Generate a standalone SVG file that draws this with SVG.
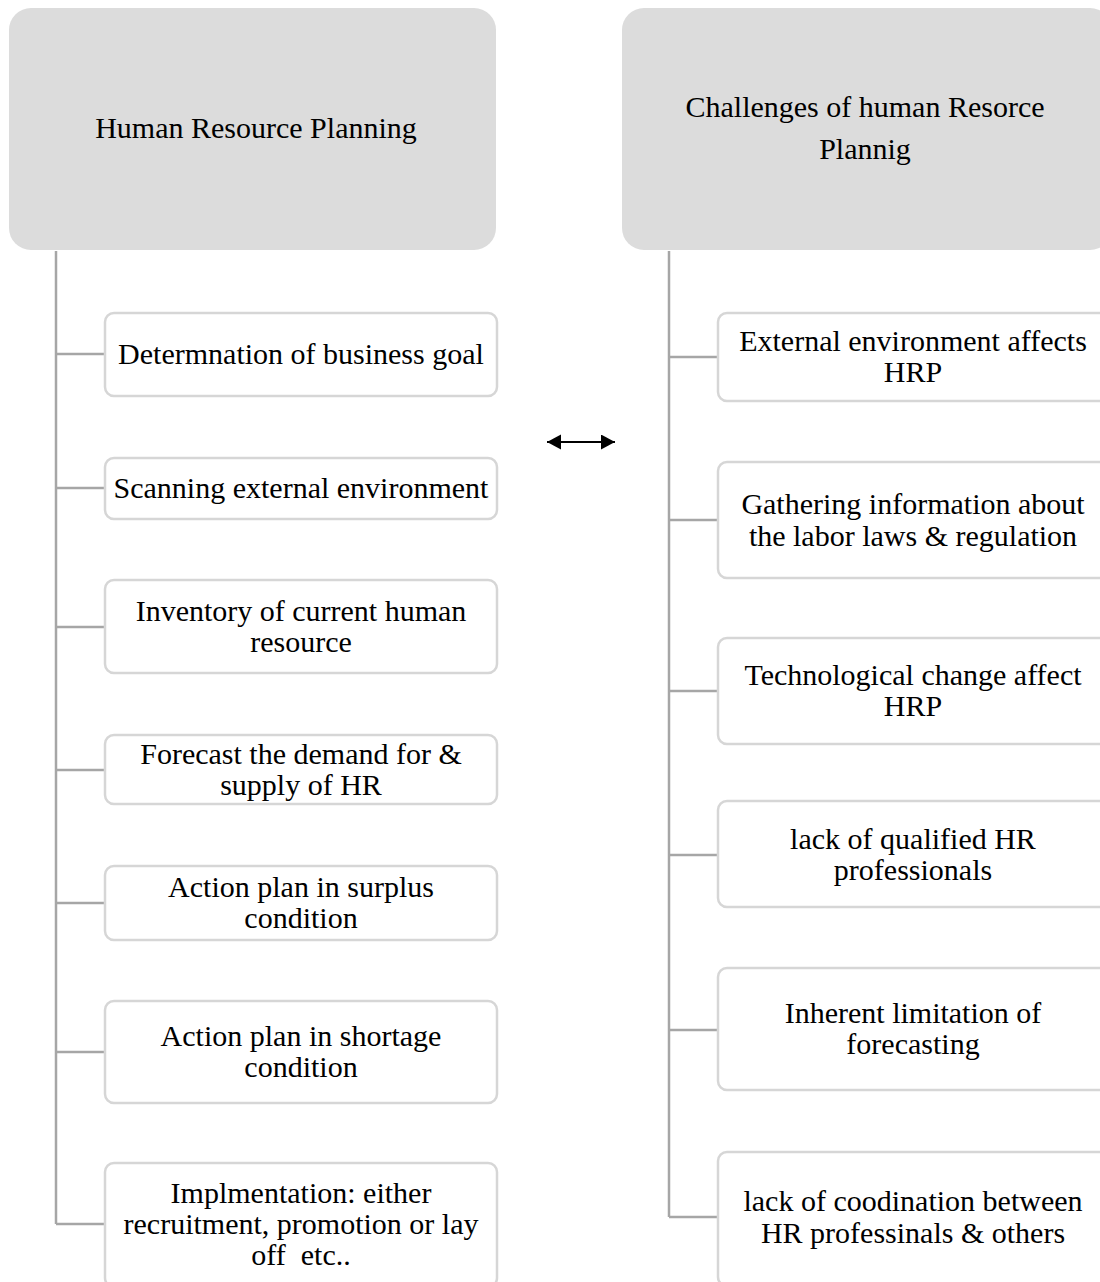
<svg xmlns="http://www.w3.org/2000/svg" width="1100" height="1282" viewBox="0 0 1100 1282">
<style>
.hdr{fill:#dcdcdc;stroke:none}
.box{fill:#ffffff;stroke:#d6d6d6;stroke-width:2.5}
.conn{stroke:#a6a6a6;stroke-width:2.5;fill:none}
text{font-family:"Liberation Serif","Times New Roman","DejaVu Serif",serif;font-size:30px;fill:#000;text-anchor:middle}
</style>
<defs>
<marker id="ah" markerUnits="userSpaceOnUse" markerWidth="15" markerHeight="16" refX="14" refY="7.5" orient="auto-start-reverse">
<path d="M0,0 L14,7.5 L0,15 z" fill="#000"/>
</marker>
</defs>
<rect width="1100" height="1282" fill="#ffffff"/>
<g id="connectors">
<path class="conn" d="M56,251 V1224 M56,354 H105 M56,488 H105 M56,627 H105 M56,770 H105 M56,903 H105 M56,1052 H105 M56,1224 H105"/>
<path class="conn" d="M669,251 V1217 M669,357 H718 M669,520 H718 M669,691 H718 M669,855 H718 M669,1030 H718 M669,1217 H718"/>
<line x1="547" y1="442" x2="615" y2="442" stroke="#000" stroke-width="2" marker-start="url(#ah)" marker-end="url(#ah)"/>
</g>
<g id="hrp">
<rect class="hdr" x="9" y="8" width="487" height="242" rx="22"/>
<text x="256" y="138">Human Resource Planning</text>
</g>
<g id="challenges">
<rect class="hdr" x="622" y="8" width="490" height="242" rx="22"/>
<text x="865" y="117">Challenges of human Resorce</text>
<text x="865" y="159">Plannig</text>
</g>
<g id="l1">
<rect class="box" x="105" y="313" width="392" height="83" rx="9"/>
<text x="301" y="364">Determnation of business goal</text>
</g>
<g id="l2">
<rect class="box" x="105" y="458" width="392" height="61" rx="9"/>
<text x="301" y="498">Scanning external environment</text>
</g>
<g id="l3">
<rect class="box" x="105" y="580" width="392" height="93" rx="9"/>
<text x="301" y="621">Inventory of current human</text>
<text x="301" y="652">resource</text>
</g>
<g id="l4">
<rect class="box" x="105" y="735" width="392" height="69" rx="9"/>
<text x="301" y="764">Forecast the demand for &amp;</text>
<text x="301" y="795">supply of HR</text>
</g>
<g id="l5">
<rect class="box" x="105" y="866" width="392" height="74" rx="9"/>
<text x="301" y="897">Action plan in surplus</text>
<text x="301" y="928">condition</text>
</g>
<g id="l6">
<rect class="box" x="105" y="1001" width="392" height="102" rx="9"/>
<text x="301" y="1046">Action plan in shortage</text>
<text x="301" y="1077">condition</text>
</g>
<g id="l7">
<rect class="box" x="105" y="1163" width="392" height="124" rx="9"/>
<text x="301" y="1203">Implmentation: either</text>
<text x="301" y="1234">recruitment, promotion or lay</text>
<text x="301" y="1265" xml:space="preserve" style="white-space:pre">off  etc..</text>
</g>
<g id="r1">
<rect class="box" x="718" y="313" width="394" height="88" rx="9"/>
<text x="913" y="351">External environment affects</text>
<text x="913" y="382">HRP</text>
</g>
<g id="r2">
<rect class="box" x="718" y="462" width="394" height="116" rx="9"/>
<text x="913" y="514">Gathering information about</text>
<text x="913" y="546">the labor laws &amp; regulation</text>
</g>
<g id="r3">
<rect class="box" x="718" y="638" width="394" height="106" rx="9"/>
<text x="913" y="685">Technological change affect</text>
<text x="913" y="716">HRP</text>
</g>
<g id="r4">
<rect class="box" x="718" y="801" width="394" height="106" rx="9"/>
<text x="913" y="849">lack of qualified HR</text>
<text x="913" y="880">professionals</text>
</g>
<g id="r5">
<rect class="box" x="718" y="968" width="394" height="122" rx="9"/>
<text x="913" y="1023">Inherent limitation of</text>
<text x="913" y="1054">forecasting</text>
</g>
<g id="r6">
<rect class="box" x="718" y="1152" width="394" height="134" rx="9"/>
<text x="913" y="1211">lack of coodination between</text>
<text x="913" y="1243">HR professinals &amp; others</text>
</g>
</svg>
